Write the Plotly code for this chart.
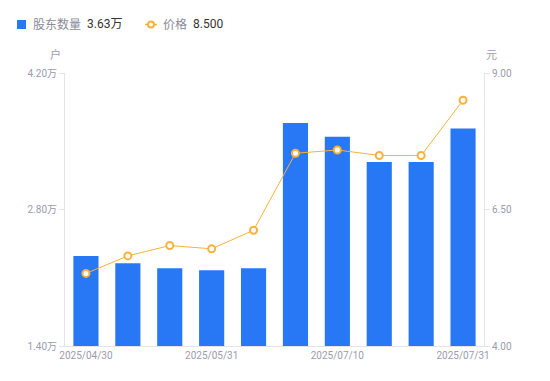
import plotly.graph_objects as go

dates = ["2025/04/30", "2025/05/09", "2025/05/20", "2025/05/31", "2025/06/10",
         "2025/06/20", "2025/07/10", "2025/07/18", "2025/07/25", "2025/07/31"]
holders_wan = [2.323, 2.248, 2.197, 2.176, 2.197, 3.687, 3.547, 3.287, 3.287, 3.63]
price = [5.33, 5.65, 5.84, 5.78, 6.12, 7.53, 7.59, 7.49, 7.49, 8.50]
x_tick_idx = [0, 3, 6, 9]
left_ticks = [1.40, 2.80, 4.20]
right_ticks = [4.00, 6.50, 9.00]
legend_names = ["股东数量", "价格"]
legend_values = ["3.63万", "8.500"]

BLUE = "#2878f5"
ORANGE = "#f7b23b"
TICK = "#9b9bad"
LINE = "#e3e3e8"
FONT = "Roboto, 'Noto Sans CJK SC', sans-serif"

W, H = 550, 381
ML, MR, MT, MB = 65, 66, 73, 35
PW, PH = W - ML - MR, H - MT - MB


def px(x):
    return (x - ML) / PW


def py(y):
    return (H - MB - y) / PH


fig = go.Figure()
fig.add_trace(go.Bar(
    x=dates, y=holders_wan, marker=dict(color=BLUE, line=dict(width=0)),
    name=legend_names[0], yaxis="y"))
fig.add_trace(go.Scatter(
    x=dates, y=price, mode="lines+markers", yaxis="y2",
    line=dict(color=ORANGE, width=1),
    marker=dict(symbol="circle", size=7, color="white", line=dict(color=ORANGE, width=2)),
    name=legend_names[1]))

shapes = [
    dict(type="rect", xref="paper", yref="paper", x0=px(17), x1=px(26), y0=py(20), y1=py(29),
         fillcolor=BLUE, line=dict(width=0), layer="above"),
    dict(type="line", xref="paper", yref="paper", x0=px(145), x1=px(157), y0=py(24.5), y1=py(24.5),
         line=dict(color=ORANGE, width=1.5), layer="above"),
    dict(type="circle", xref="paper", yref="paper", x0=px(148), x1=px(154), y0=py(21.5), y1=py(27.5),
         fillcolor="white", line=dict(color=ORANGE, width=2), layer="above"),
]

ann = [
    dict(text=legend_names[0], x=px(31), y=py(24.5), font=dict(size=12, color="#8a8a9a")),
    dict(text=legend_values[0], x=px(85), y=py(24.5), font=dict(size=12, color="#333333")),
    dict(text=legend_names[1], x=px(161), y=py(24.5), font=dict(size=12, color="#8a8a9a")),
    dict(text=legend_values[1], x=px(191), y=py(24.5), font=dict(size=12, color="#333333")),
]
for a in ann:
    a.update(xref="paper", yref="paper", xanchor="left", yanchor="middle", showarrow=False)
ann += [
    dict(text="户", xref="paper", yref="paper", x=0, y=1, xanchor="right",
         yanchor="bottom", xshift=-2, yshift=9, showarrow=False,
         font=dict(size=11, color=TICK)),
    dict(text="元", xref="paper", yref="paper", x=1, y=1, xanchor="left",
         yanchor="bottom", xshift=0, yshift=9, showarrow=False,
         font=dict(size=11, color=TICK)),
]

fig.update_layout(
    width=W, height=H,
    margin=dict(l=ML, r=MR, t=MT, b=MB, autoexpand=False),
    paper_bgcolor="white", plot_bgcolor="white",
    font=dict(family=FONT, size=11, color=TICK),
    bargap=0.4,
    showlegend=False,
    xaxis=dict(type="category", range=[-0.5, len(dates) - 0.5],
               tickvals=[dates[i] for i in x_tick_idx],
               ticktext=[dates[i] for i in x_tick_idx],
               showline=True, linecolor=LINE, linewidth=1, ticks="",
               showgrid=False, zeroline=False, automargin=False,
               tickfont=dict(size=10, color=TICK)),
    yaxis=dict(range=[1.40, 4.20], tickvals=left_ticks,
               ticktext=[f"{v:.2f}万" for v in left_ticks],
               showline=True, linecolor=LINE, linewidth=1,
               ticks="outside", ticklen=5, tickcolor=LINE, automargin=False,
               showgrid=False, zeroline=False, tickfont=dict(size=10, color=TICK)),
    yaxis2=dict(range=[4.00, 9.00], tickvals=right_ticks,
                ticktext=[f"{v:.2f}" for v in right_ticks],
                overlaying="y", side="right",
                showline=True, linecolor=LINE, linewidth=1, automargin=False,
                ticks="outside", ticklen=5, tickcolor=LINE,
                showgrid=False, zeroline=False, tickfont=dict(size=10, color=TICK)),
    shapes=shapes,
    annotations=ann,
)

fig.write_html("out.html", config={"displayModeBar": False},
               post_script="document.body.style.margin='0px';")
